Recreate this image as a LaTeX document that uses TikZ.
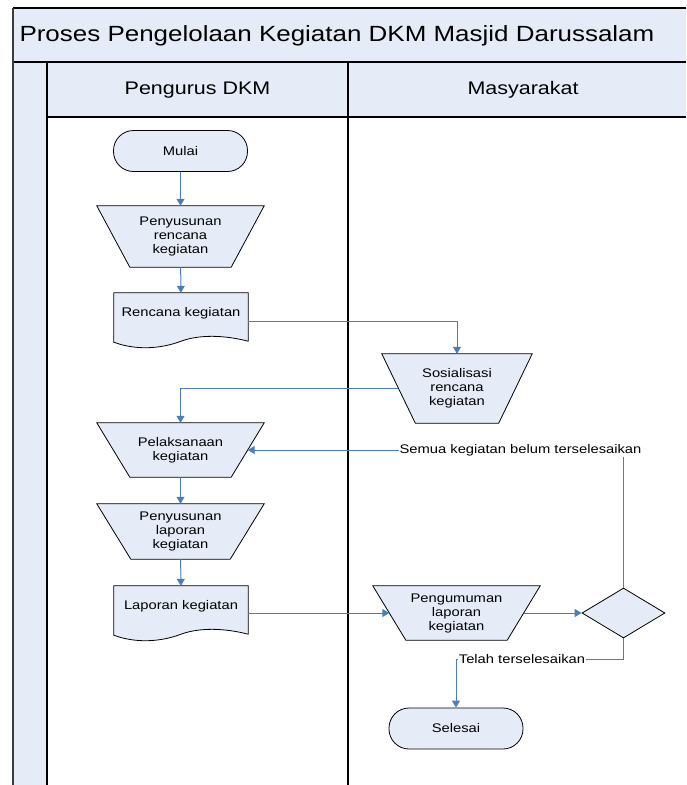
\documentclass[tikz,border=0pt]{standalone}
\usepackage{fontspec}
\setmainfont{Liberation Sans}[FakeStretch=1.18]
\usetikzlibrary{arrows.meta,shapes.geometric,calc,backgrounds}

\definecolor{lanefill}{HTML}{E6ECF7}
\definecolor{flowblue}{HTML}{4A7EBB}
\definecolor{framegray}{HTML}{3C3C3C}

\tikzset{
  lbl/.style={font=\fontsize{12.5}{14}\selectfont, align=center},
  terminal/.style={lbl, draw=black, line width=0.8pt, fill=lanefill, rounded corners=20pt,
    minimum width=134pt, minimum height=41pt, inner sep=0pt},
  manual/.style={lbl, inner sep=0pt},
  docnode/.style={lbl, minimum width=134pt, minimum height=40pt, inner sep=0pt},
  shapeline/.style={draw=black, line width=0.8pt, fill=lanefill},
  decision/.style={diamond, draw=black, line width=0.8pt, fill=lanefill, inner sep=0pt,
    minimum width=83pt, minimum height=50pt},
  flow/.style={draw=flowblue, line width=1pt, -{Triangle[length=7pt,width=8pt]}},
  flowtag/.style={lbl, fill=white, inner sep=1pt},
  lane/.style={draw=black, line width=1.3pt},
}

% wavy-bottom document outline around a named node
\newcommand{\docoutline}[1]{%
  \begin{pgfonlayer}{background}
  \path[shapeline] (#1.north west) -- (#1.north east)
    -- ($(#1.south east)+(0,8)$)
    .. controls ($(#1.south)+(44,2)$) and ($(#1.south)+(19,1)$) .. ($(#1.south)+(0,8)$)
    .. controls ($(#1.south)+(-21,16)$) and ($(#1.south)+(-46,17)$) .. ($(#1.south west)+(0,9)$)
    -- cycle;
  \end{pgfonlayer}}

% manual-operation outline: wide top, bottom narrowed by #2 on each side
\newcommand{\manualoutline}[2]{%
  \begin{pgfonlayer}{background}
  \path[shapeline] (#1.north west) -- (#1.north east)
    -- ($(#1.south east)+(-#2,0)$) -- ($(#1.south west)+(#2,0)$) -- cycle;
  \end{pgfonlayer}}

\begin{document}
\begin{tikzpicture}[x=1pt,y=-1pt]
\useasboundingbox (0,0) rectangle (686,785);

% swimlane frame
\path[fill=lanefill] (13,8) rectangle (686,62);
\path[fill=lanefill] (13,62) rectangle (47,785);
\path[fill=lanefill] (47,62) rectangle (686,117);
\draw[lane] (13,8) -- (686,8);
\draw[lane] (13,62) -- (686,62);
\draw[lane] (47,117) -- (686,117);
\draw[lane] (47,62) -- (47,785);
\draw[draw=black, line width=1.7pt] (348,62) -- (348,785);
\draw[draw=framegray, line width=2.2pt] (13,8) -- (13,785);

\node[anchor=west, font=\fontsize{22}{26}\selectfont] (title) at (16,36)
  {Proses Pengelolaan Kegiatan DKM Masjid Darussalam};
\node[font=\fontsize{18.2}{22}\selectfont] (laneA) at (197.5,90) {Pengurus DKM};
\node[font=\fontsize{18.2}{22}\selectfont] (laneB) at (523,90) {Masyarakat};

% flow elements
\node[terminal] (mulai) at (180.5,151) {Mulai};
\node[manual, minimum width=167pt, minimum height=61pt]
  (susunrencana) at (180.5,236.5) {Penyusunan\\rencana\\kegiatan};
\manualoutline{susunrencana}{33}
\node[docnode] (rencana) at (181,313) {Rencana kegiatan};
\docoutline{rencana}
\node[manual, minimum width=150pt, minimum height=69pt]
  (sosialisasi) at (457,388.5) {Sosialisasi\\rencana\\kegiatan};
\manualoutline{sosialisasi}{33.5}
\node[manual, minimum width=167pt, minimum height=54pt]
  (pelaksanaan) at (180.5,450) {Pelaksanaan\\kegiatan};
\manualoutline{pelaksanaan}{33}
\node[manual, minimum width=167pt, minimum height=55pt]
  (susunlaporan) at (180.5,531.5) {Penyusunan\\laporan\\kegiatan};
\manualoutline{susunlaporan}{34}
\node[docnode] (laporan) at (181,606) {Laporan kegiatan};
\docoutline{laporan}
\node[manual, minimum width=167pt, minimum height=54pt]
  (pengumuman) at (456.5,613) {Pengumuman\\laporan\\kegiatan};
\manualoutline{pengumuman}{33}
\node[decision] (cek) at (623.5,613) {};
\node[terminal] (selesai) at (456,728.5) {Selesai};

\coordinate (loopturn) at (623.5,450);
\coordinate (doneturn) at (623.5,659);

% connectors
\draw[flow] (mulai) -- (susunrencana);
\draw[flow] (susunrencana) -- (rencana);
\draw[flow] ([yshift=-8pt]rencana.east) -| (sosialisasi.north);
\draw[flow] ([xshift=16.5pt]sosialisasi.west) -| (pelaksanaan.north);
\draw[flow] (pelaksanaan) -- (susunlaporan);
\draw[flow] (susunlaporan) -- (laporan);
\draw[flow] ([yshift=-7pt]laporan.east) -- ([xshift=16.5pt]pengumuman.west);
\draw[flow] ([xshift=-16.5pt]pengumuman.east) -- (cek.west);
\draw[flow] (cek.north) -- (loopturn) -- ([xshift=-16.5pt]pelaksanaan.east);
\draw[flow] (cek.south) -- (doneturn) -| (selesai.north);

\node[flowtag] (tagloop) at (520.5,450) {Semua kegiatan belum terselesaikan};
\node[flowtag] (tagdone) at (522,659) {Telah terselesaikan};
\end{tikzpicture}
\end{document}
